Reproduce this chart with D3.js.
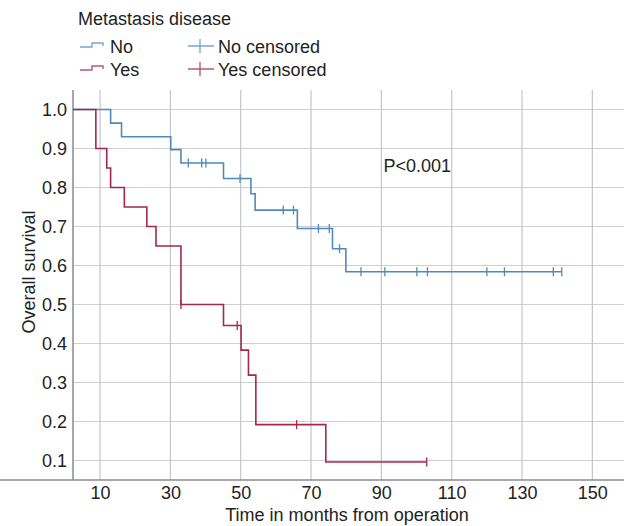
<!DOCTYPE html>
<html>
<head>
<meta charset="utf-8">
<script src="https://cdn.jsdelivr.net/npm/d3@7"></script>
<style>
  body { margin: 0; background: #fff; }
  text { font-family: "Liberation Sans", Arial, sans-serif; fill: #222; }
</style>
</head>
<body>
<div id="chart"></div>
<script>
// survival steps: [time, survival]
let noTimes  = [0, 13.0, 16.1, 30.1, 33.0, 45.1, 52.9, 54.1, 66.1, 76.1, 79.9];
let noSurv   = [1.0, 0.965, 0.930, 0.897, 0.863, 0.823, 0.784, 0.742, 0.695, 0.643, 0.584];
let noEnd    = 141.3;
let noCens   = [35.1, 38.9, 40.1, 49.8, 62.1, 65.0, 72.1, 75.2, 78.1, 84.2, 91.0, 100.1, 103.1, 120.0, 125.0, 138.9, 141.3];

let yesTimes = [0, 8.8, 11.9, 13.0, 16.9, 23.3, 25.9, 33.0, 45.1, 50.1, 52.2, 54.3, 74.2];
let yesSurv  = [1.0, 0.90, 0.85, 0.80, 0.75, 0.70, 0.65, 0.50, 0.446, 0.383, 0.319, 0.192, 0.096];
let yesEnd   = 102.9;
let yesCens  = [33.0, 49.0, 65.9, 102.9];

let xTicks = [10, 30, 50, 70, 90, 110, 130, 150];
let yTicks = [0.1, 0.2, 0.3, 0.4, 0.5, 0.6, 0.7, 0.8, 0.9, 1.0];

let width = 624, height = 526;
let blue = '#5089ba', red = '#a3294b';
let fs = '18px';

let svg = d3.select('#chart').append('svg')
  .attr('width', width).attr('height', height);

let x = d3.scaleLinear().domain([2.3, 159]).range([73, 624]);
let y = d3.scaleLinear().domain([0.05, 1.05]).range([480, 90]);

// grid
svg.append('g').selectAll('line').data(yTicks).enter().append('line')
  .attr('x1', 73).attr('x2', 624)
  .attr('y1', d => y(d)).attr('y2', d => y(d))
  .attr('stroke', '#cfcfd3').attr('stroke-width', 1.2);
svg.append('g').selectAll('line').data(xTicks).enter().append('line')
  .attr('x1', d => x(d)).attr('x2', d => x(d))
  .attr('y1', 90).attr('y2', 480)
  .attr('stroke', '#c4c4cc').attr('stroke-width', 1.2);

// axes
let xAxis = svg.append('g').attr('transform', 'translate(0,480)')
  .call(d3.axisBottom(x).tickValues(xTicks).tickSize(0).tickPadding(6));
let yAxis = svg.append('g').attr('transform', 'translate(73,0)')
  .call(d3.axisLeft(y).tickValues(yTicks).tickFormat(d3.format('.1f')).tickSize(0).tickPadding(6));
[xAxis, yAxis].forEach(a => {
  a.select('.domain').attr('stroke', '#8a8a90').attr('stroke-width', 1.5);
  a.selectAll('text').style('font-size', fs).attr('fill', '#222')
    .style('font-family', '"Liberation Sans", Arial, sans-serif');
});
// extend domain path to the right edge / top
xAxis.select('.domain').attr('d', 'M0,0H' + width);
yAxis.select('.domain').attr('d', 'M0,90V480');

svg.append('text').attr('x', 347).attr('y', 521).attr('text-anchor', 'middle')
  .style('font-size', fs).text('Time in months from operation');
svg.append('text').attr('transform', 'translate(35,272) rotate(-90)')
  .attr('text-anchor', 'middle').style('font-size', fs).text('Overall survival');

// curves
svg.append('clipPath').attr('id', 'clip').append('rect')
  .attr('x', 73).attr('y', 80).attr('width', width - 73).attr('height', 400);

let line = d3.line().x(d => x(d[0])).y(d => y(d[1])).curve(d3.curveStepAfter);

function drawCurve(times, surv, end, cens, color) {
  let pts = times.map((t, i) => [t, surv[i]]);
  pts.push([end, surv[surv.length - 1]]);
  let g = svg.append('g').attr('clip-path', 'url(#clip)');
  g.append('path').datum(pts).attr('d', line)
    .attr('fill', 'none').attr('stroke', color).attr('stroke-width', 1.6);
  let survAt = t => {
    let s = surv[0];
    times.forEach((tt, i) => { if (tt <= t) s = surv[i]; });
    return s;
  };
  g.selectAll('.cens').data(cens).enter().append('line')
    .attr('x1', d => x(d)).attr('x2', d => x(d))
    .attr('y1', d => y(survAt(d)) - 4.5).attr('y2', d => y(survAt(d)) + 4.5)
    .attr('stroke', color).attr('stroke-width', 1.3);
}
drawCurve(noTimes, noSurv, noEnd, noCens, blue);
drawCurve(yesTimes, yesSurv, yesEnd, yesCens, red);

svg.append('text').attr('x', x(90.6)).attr('y', 172).style('font-size', fs).text('P<0.001');

// legend
svg.append('text').attr('x', 78).attr('y', 25).style('font-size', fs).text('Metastasis disease');
let legItems = [
  { label: 'No', color: '#7aa7cd' },
  { label: 'Yes', color: '#b65a74' }
];
legItems.forEach((d, i) => {
  let yy = 53 + i * 23;
  svg.append('path')
    .attr('d', `M80,${yy - 6}H92V${yy - 10}H103V${yy - 7}`)
    .attr('fill', 'none').attr('stroke', d.color).attr('stroke-width', 1.4);
  svg.append('text').attr('x', 110).attr('y', yy).style('font-size', fs).text(d.label);
  svg.append('path')
    .attr('d', `M188,${yy - 7}H214M200,${yy - 14}V${yy}`)
    .attr('fill', 'none').attr('stroke', d.color).attr('stroke-width', 1.4);
  svg.append('text').attr('x', 218).attr('y', yy).style('font-size', fs).text(d.label + ' censored');
});
</script>
</body>
</html>
